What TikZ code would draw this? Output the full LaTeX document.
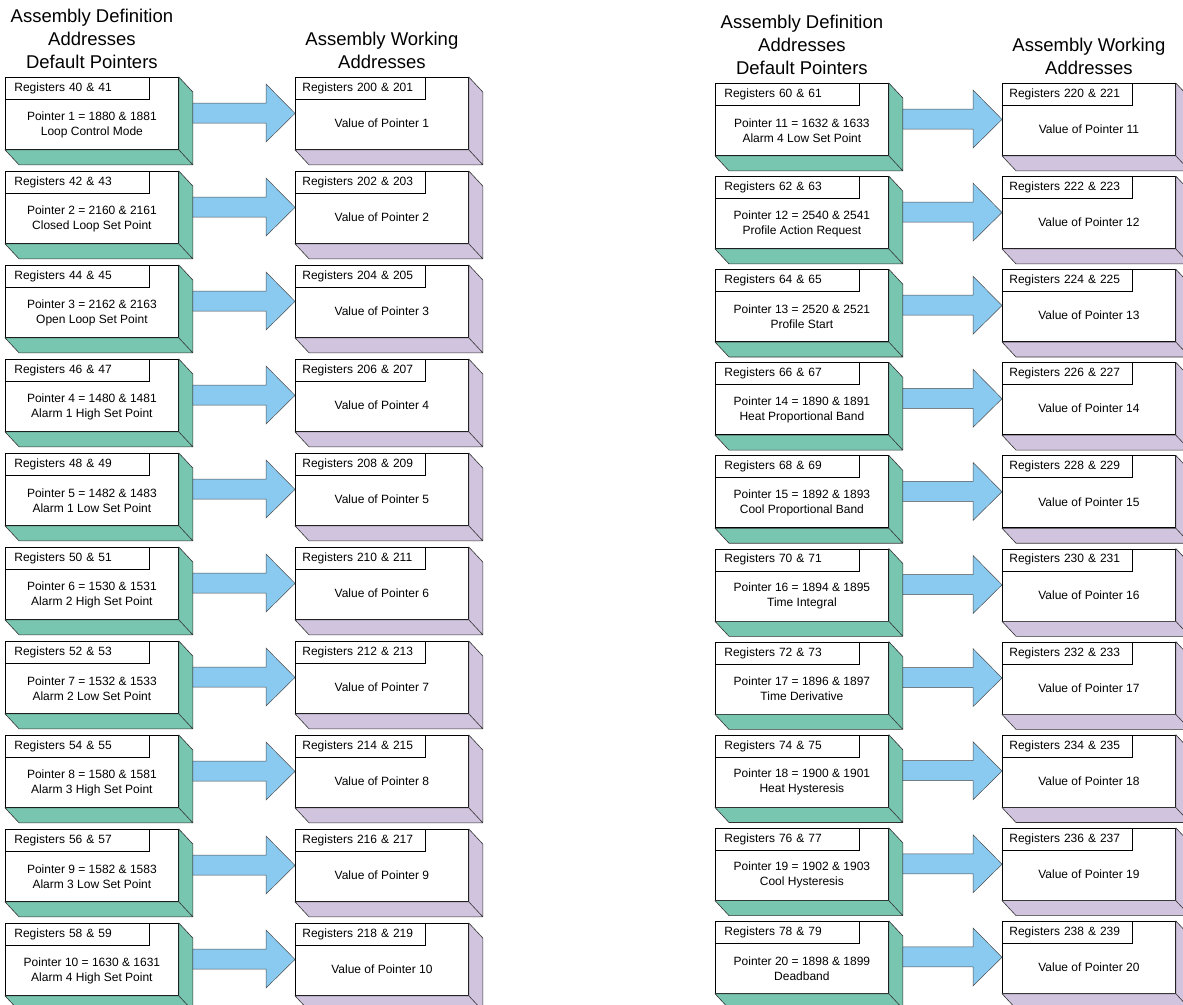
\documentclass[tikz,border=0pt]{standalone}
\usepackage{fontspec}
\setmainfont{Liberation Sans}
\usepackage{xcolor}
\usetikzlibrary{positioning}
\definecolor{defgreen}{RGB}{120,198,176}
\definecolor{workpurple}{RGB}{209,196,222}
\definecolor{flowblue}{RGB}{138,202,240}
\tikzset{
front/.style={
draw,
fill=white,
line width=0.8pt,
anchor=north west,
inner sep=0pt,
minimum width=173pt,
minimum height=72pt
},
regtag/.style={
draw,
line width=0.7pt,
anchor=north west,
inner xsep=9pt,
inner ysep=0pt,
minimum height=22pt,
text width=126pt,
align=left,
font=\fontsize{12}{14}\selectfont
},
worktag/.style={
regtag,
inner xsep=7pt,
text width=116pt
},
celltext/.style={
align=center,
font=\fontsize{12}{15}\selectfont
},
heading/.style={
align=center,
inner sep=0pt,
text depth=0pt,
font=\fontsize{18.5}{23}\selectfont
},
side/.style={
draw=black!80,
line width=0.6pt,
line join=round
},
flow/.style={
draw=black!70,
fill=flowblue,
line width=0.5pt
}
}

\begin{document}
\begin{tikzpicture}[x=1pt,y=-1pt]
\useasboundingbox (0,0) rectangle (1183,1004);

\foreach \n/\addr/\desc in {
1/1880/Loop Control Mode,
2/2160/Closed Loop Set Point,
3/2162/Open Loop Set Point,
4/1480/Alarm 1 High Set Point,
5/1482/Alarm 1 Low Set Point,
6/1530/Alarm 2 High Set Point,
7/1532/Alarm 2 Low Set Point,
8/1580/Alarm 3 High Set Point,
9/1582/Alarm 3 Low Set Point,
10/1630/Alarm 4 High Set Point,
11/1632/Alarm 4 Low Set Point,
12/2540/Profile Action Request,
13/2520/Profile Start,
14/1890/Heat Proportional Band,
15/1892/Cool Proportional Band,
16/1894/Time Integral,
17/1896/Time Derivative,
18/1900/Heat Hysteresis,
19/1902/Cool Hysteresis,
20/1898/Deadband}{
\pgfmathsetmacro\xd{\n>10 ? 715 : 5}
\pgfmathsetmacro\xw{\n>10 ? 1002 : 295}
\pgfmathsetmacro\yt{\n>10 ? 83+93.1*(\n-11) : 77+94*(\n-1)}
\pgfmathtruncatemacro\dlo{38+2*\n}
\pgfmathtruncatemacro\dhi{39+2*\n}
\pgfmathtruncatemacro\wlo{198+2*\n}
\pgfmathtruncatemacro\whi{199+2*\n}
\pgfmathtruncatemacro\ahi{\addr+1}

\node[front](d\n) at (\xd,\yt){};
\node[front](w\n) at (\xw,\yt){};

% 3d sides
\draw[side,fill=defgreen](d\n.north east)--([shift={(14,15)}]d\n.north east)--([shift={(14,15)}]d\n.south east)--([shift={(14,15)}]d\n.south west)--(d\n.south west)--(d\n.south east)--cycle
(d\n.south east)--([shift={(14,15)}]d\n.south east);
\draw[side,fill=workpurple](w\n.north east)--([shift={(14,15)}]w\n.north east)--([shift={(14,15)}]w\n.south east)--([shift={(14,15)}]w\n.south west)--(w\n.south west)--(w\n.south east)--cycle
(w\n.south east)--([shift={(14,15)}]w\n.south east);

\node[regtag](dr\n) at (d\n.north west){Registers \dlo\ \& \dhi};
\node[worktag](wr\n) at (w\n.north west){Registers \wlo\ \& \whi};
\node[celltext](p\n) at ([yshift=-11pt]d\n.center){Pointer \n\ = \addr\ \& \ahi\\\desc};
\node[celltext](v\n) at ([yshift=-10pt]w\n.center){Value of Pointer \n};

% block arrow
\draw[flow]([shift={(14,26)}]d\n.north east)--([shift={(-29,26)}]w\n.north west)--([shift={(-29,7)}]w\n.north west)--(w\n.west)
--([shift={(-29,65)}]w\n.north west)--([shift={(-29,46)}]w\n.north west)--([shift={(14,46)}]d\n.north east)--cycle;
}

\node[heading,above=8.5pt of d1](dhead1){Assembly Definition\\Addresses\\Default Pointers};
\node[heading,above=8.5pt of w1](whead1){Assembly Working\\Addresses};
\node[heading,above=8.5pt of d11](dhead11){Assembly Definition\\Addresses\\Default Pointers};
\node[heading,above=8.5pt of w11](whead11){Assembly Working\\Addresses};
\end{tikzpicture}
\end{document}
